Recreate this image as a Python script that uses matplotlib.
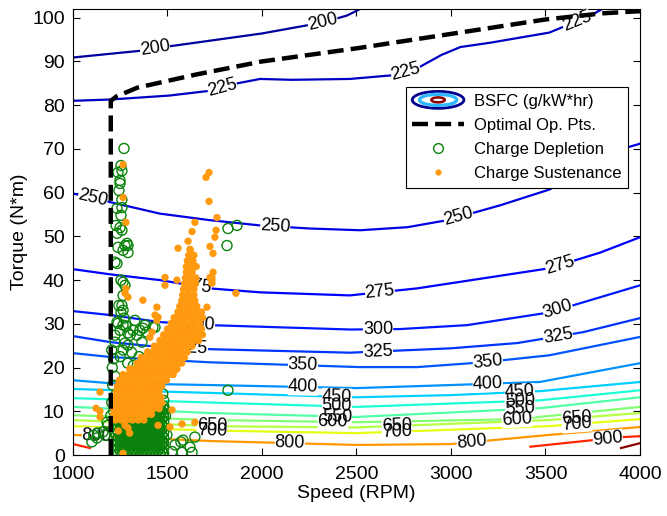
import numpy as np
import matplotlib
matplotlib.use('Agg')
import matplotlib.pyplot as plt
import matplotlib.colors as mcolors
from matplotlib.patches import Ellipse
from matplotlib.lines import Line2D
from matplotlib.legend_handler import HandlerBase

plt.rcParams['font.family'] = ['Liberation Sans', 'DejaVu Sans']

# BSFC contour lines: (level, speed RPM, torque N*m)
bsfc_lines = [
    (200, [1000, 1370, 1500, 2000, 2320, 2450, 2520], [90.9, 92.5, 93.4, 96.4, 98.9, 100.5, 102]),
    (225, [1000, 1200, 1510, 1725, 1870, 1990, 2160, 2465, 2680, 2820, 2950, 3050, 3210, 3520, 3610, 3740, 3800],
          [81.0, 81.3, 82.2, 83.3, 85.0, 86.0, 85.8, 86.0, 86.8, 88.4, 91.5, 93.3, 94.3, 96.6, 98.2, 100.5, 102]),
    (250, [1000, 1200, 1460, 1725, 1990, 2250, 2520, 2770, 2980, 3260, 3520, 3930, 4000],
          [59.8, 57.8, 55.2, 53.7, 52.5, 51.8, 51.4, 52.1, 53.7, 57.1, 60.7, 70.3, 71.2]),
    (275, [1000, 1200, 1460, 1725, 1990, 2465, 2820, 3170, 3520, 3790, 4000],
          [42.5, 41.3, 40.0, 38.1, 37.2, 36.5, 38.1, 40.4, 42.7, 46.3, 49.8]),
    (300, [1000, 1200, 1460, 1725, 2465, 2730, 3085, 3520, 4000],
          [32.9, 32.0, 30.4, 29.7, 28.7, 28.8, 29.7, 32.6, 38.8]),
    (325, [1000, 1200, 1460, 1725, 2465, 3000, 3350, 3700, 4000],
          [27.2, 25.8, 24.7, 24.2, 23.4, 24.4, 25.6, 28.1, 31.3]),
    (350, [1000, 1200, 1725, 2520, 2820, 3170, 3520, 4000],
          [23.3, 22.4, 21.2, 20.1, 20.1, 21.2, 22.8, 27.0]),
    (400, [1000, 1200, 1725, 2500, 3000, 3470, 4000], [17.1, 16.4, 16.0, 15.3, 16.0, 16.7, 21.0]),
    (450, [1000, 1725, 2500, 3000, 3470, 4000], [15.1, 14.2, 13.2, 13.7, 14.6, 16.7]),
    (500, [1000, 1725, 2500, 3470, 4000], [13.0, 12.0, 11.0, 12.5, 14.8]),
    (550, [1000, 1725, 2500, 3470, 4000], [11.0, 9.6, 8.7, 10.7, 13.2]),
    (600, [1000, 1725, 2500, 3350, 4000], [9.1, 8.0, 7.5, 8.2, 11.0]),
    (650, [1000, 1725, 2500, 3520, 4000], [8.0, 6.6, 6.3, 8.0, 9.6]),
    (700, [1000, 1725, 2500, 3520, 4000], [6.6, 5.6, 5.0, 6.6, 8.2]),
    (800, [1000, 1725, 2500, 3000, 3520, 4000], [4.6, 3.2, 2.3, 2.5, 4.6, 6.4]),
    (900, [1000, 1090], [2.5, 1.6]),
    (900, [3420, 3750, 3910, 4000], [1.9, 3.4, 4.1, 4.3]),
    (1000, [3900, 4000], [1.6, 2.7]),
]

# where the contour labels sit (level, speed)
bsfc_labels = [
    (200, 1434), (200, 2322), (225, 1790), (225, 2760), (225, 3666),
    (250, 1105), (250, 2070), (250, 3040), (275, 1656), (275, 2624), (275, 3576),
    (300, 1672), (300, 2614), (300, 3566), (325, 1635), (325, 2614), (325, 3566),
    (350, 2217), (350, 3195), (400, 2217), (400, 3195), (450, 2397), (450, 3365),
    (500, 2397), (500, 3365), (550, 2397), (550, 3365), (600, 2375), (600, 3349),
    (650, 1735), (650, 2714), (650, 3666), (700, 1735), (700, 2714), (700, 3666),
    (800, 1127), (800, 2148), (800, 3110), (900, 3830),
]

# optimal operating points
opt_speed = [1200, 1200, 1230, 1340, 1650, 2000, 2500, 3000, 3500, 3800, 4000]
opt_torque = [0, 81, 82, 84, 87, 90, 93, 96.3, 99.6, 101, 101.5]

# charge depletion points (sparse ones)
cd_speed = [1270, 1254, 1259, 1238, 1249, 1243, 1259, 1233, 1254, 1228, 1259, 1275, 1238, 1291,
            1222, 1233, 1265, 1275, 1254, 1265, 1259, 1265, 1243, 1254, 1270, 1233, 1238, 1265,
            1249, 1280, 1317, 1370, 1391, 1434, 1354, 1381, 1328, 1302, 1338, 1291, 1222, 1275,
            1365, 1222, 1291, 1265, 1291, 1249, 1259, 1249, 1233, 1286, 1423,
            1820, 1868, 1815, 1820, 1497, 1582, 1645, 1540, 1619, 1577, 1630, 1524, 1476, 1571,
            1127, 1100, 1159, 1185, 1170, 1110, 1132, 1180,
            1205, 1215, 1208, 1222, 1210, 1230, 1205, 1215, 1200, 1470, 1480, 1490, 1475,
            1250, 1290, 1320, 1265, 1350, 1310, 1460, 1485]
cd_torque = [70.1, 66.2, 65.0, 64.6, 62.8, 60.5, 58.4, 56.4, 54.8, 52.5, 51.4, 47.9, 47.5, 47.9,
             44.1, 43.8, 39.5, 38.8, 40.0, 36.5, 34.2, 33.1, 34.2, 32.6, 31.3, 30.4, 30.1, 29.7,
             28.5, 29.5, 28.5, 29.0, 28.1, 29.2, 28.5, 29.7, 30.8, 27.4, 27.4, 27.9, 27.4, 25.6,
             25.8, 25.8, 25.1, 46.8, 46.3, 52.0, 56.6, 62.1, 50.7, 48.4, 29.2,
             51.8, 52.5, 47.9, 14.8, 4.6, 3.4, 4.1, 2.3, 1.8, 0.6, 0.6, 0.8, 3.0, 3.0,
             3.9, 3.0, 5.3, 6.8, 4.5, 4.5, 5.0, 7.5,
             24.0, 22.0, 20.0, 18.0, 16.0, 14.0, 12.0, 10.0, 9.0, 10.0, 12.5, 9.0, 14.0,
             22.5, 21.0, 20.5, 24.0, 22.5, 23.5, 11.0, 10.5]

# dense low-load cluster of charge depletion points, row by row
cd_row_a = [1230, 1250, 1270, 1290, 1310, 1330, 1350, 1370, 1390, 1410, 1430, 1450, 1470]
cd_row_b = [1240, 1260, 1280, 1300, 1320, 1340, 1360, 1380, 1400, 1420, 1440, 1460, 1480]
cd_row_c = [1380, 1400, 1420, 1440, 1460, 1480]
cd_rows = [(0.4, cd_row_b), (1.0, cd_row_a), (1.6, cd_row_b), (2.2, cd_row_a), (2.8, cd_row_b),
           (3.4, cd_row_a), (4.0, cd_row_b), (4.6, cd_row_a), (5.2, cd_row_b), (5.8, cd_row_a),
           (6.4, cd_row_b), (7.0, cd_row_a), (7.6, cd_row_b), (8.2, cd_row_a), (8.8, cd_row_b),
           (9.6, cd_row_c), (10.4, cd_row_c), (11.2, cd_row_c)]

# charge sustenance points (sparse ones)
cs_speed = [1265, 1720, 1704, 1265, 1720, 1280, 1762, 1645, 1630, 1757, 1751, 1609, 1725, 1556,
            1619, 1741, 1735, 1741, 1735, 1487, 1487, 1550, 1862, 1370, 1275, 1280, 1291, 1444,
            1434, 1450, 1444, 1418, 1407, 1725, 1735, 1709, 1143, 1122, 1143, 1143, 1275, 1291,
            1450, 1513, 1577, 1645, 1540, 1524, 1265, 1240, 1300]
cs_torque = [66.4, 64.6, 63.5, 58.9, 58.0, 53.2, 54.3, 53.2, 51.1, 51.4, 49.8, 48.9, 47.7, 47.3,
             47.0, 46.1, 40.6, 41.8, 40.0, 40.6, 38.8, 40.0, 37.0, 35.4, 37.0, 38.1, 36.1, 33.8,
             32.0, 31.5, 30.8, 28.1, 26.9, 40.6, 39.3, 33.8, 14.4, 10.7, 10.0, 8.7, 6.8, 6.2,
             6.8, 6.4, 7.1, 7.5, 19.4, 10.3, 0.4, 5.5, 5.0]

# dense band of charge sustenance points, row by row (torque, speeds)
cs_rows = [
    (8.0, [1225, 1255, 1285, 1315, 1345, 1375]),
    (9.3, [1215, 1240, 1265, 1290, 1315, 1340, 1365, 1390, 1415]),
    (10.6, [1215, 1245, 1275, 1305, 1335, 1365, 1395, 1425, 1455]),
    (11.9, [1220, 1245, 1270, 1295, 1320, 1345, 1370, 1395, 1420, 1445, 1470]),
    (13.2, [1225, 1255, 1285, 1315, 1345, 1375, 1405, 1435, 1465]),
    (14.5, [1230, 1255, 1280, 1305, 1330, 1355, 1380, 1405, 1430, 1455]),
    (15.8, [1235, 1265, 1295, 1325, 1355, 1385, 1415, 1445, 1470]),
    (17.1, [1245, 1270, 1295, 1320, 1345, 1370, 1395, 1420, 1445, 1470, 1495]),
    (18.4, [1265, 1295, 1325, 1355, 1385, 1415, 1445, 1475, 1505, 1530]),
    (19.7, [1300, 1325, 1350, 1375, 1400, 1425, 1450, 1475, 1500, 1525, 1550]),
    (21.0, [1340, 1370, 1400, 1430, 1460, 1490, 1520, 1550, 1575]),
    (22.3, [1360, 1385, 1410, 1435, 1460, 1485, 1510, 1535, 1560, 1590]),
    (23.6, [1395, 1425, 1455, 1485, 1515, 1545, 1575, 1605]),
    (24.9, [1430, 1455, 1480, 1505, 1530, 1555, 1580, 1605, 1630]),
    (26.2, [1460, 1490, 1520, 1550, 1580, 1610, 1640, 1665]),
    (27.5, [1480, 1505, 1530, 1555, 1580, 1605, 1630, 1655, 1685]),
    (28.8, [1500, 1530, 1560, 1590, 1620, 1650, 1680]),
    (30.1, [1520, 1545, 1570, 1595, 1620, 1645, 1670]),
    (31.4, [1535, 1565, 1595, 1625, 1655, 1685]),
    (32.7, [1555, 1580, 1605, 1630, 1655, 1680]),
    (34.0, [1565, 1595, 1625, 1655]),
    (35.3, [1575, 1600, 1625, 1645]),
    (36.6, [1580, 1610, 1640]),
    (37.9, [1585, 1610, 1640]),
    (39.2, [1590, 1620, 1648]),
    (40.5, [1595, 1625, 1650]),
    (41.8, [1600, 1630]),
    (43.1, [1600, 1628, 1652]),
    (44.4, [1605, 1635]),
    (45.7, [1612, 1640]),
    (47.0, [1620]),
]

norm = mcolors.Normalize(vmin=175, vmax=1010)
cmap = plt.get_cmap('jet')

fig = plt.figure(figsize=(6.67, 5.16), dpi=100)
ax = fig.add_axes([0.1094, 0.1182, 0.8501, 0.8644])
ax.set_xlim(1000, 4000)
ax.set_ylim(0, 102)

for lvl, xs, ys in bsfc_lines:
    ax.plot(xs, ys, color=cmap(norm(lvl)), lw=1.6, zorder=2)

# labels: white patch under each label first, then the digits on top of all patches
for lvl, lx in bsfc_labels:
    for l2, xs, ys in bsfc_lines:
        if l2 == lvl and xs[0] <= lx <= xs[-1]:
            ly = np.interp(lx, xs, ys)
            p1 = ax.transData.transform((lx - 30, np.interp(lx - 30, xs, ys)))
            p2 = ax.transData.transform((lx + 30, np.interp(lx + 30, xs, ys)))
            ang = np.degrees(np.arctan2(p2[1] - p1[1], p2[0] - p1[0]))
            ax.text(lx, ly, str(lvl), rotation=ang, rotation_mode='anchor', ha='center', va='center',
                    fontsize=13, zorder=3, color='none',
                    bbox=dict(boxstyle='square,pad=0.0', fc='white', ec='none'))
            ax.text(lx, ly, str(lvl), rotation=ang, rotation_mode='anchor', ha='center', va='center',
                    fontsize=13, zorder=3.1, color='black')
            break

cd_x = list(cd_speed)
cd_y = list(cd_torque)
for ty, row in cd_rows:
    cd_x += row
    cd_y += [ty] * len(row)
cs_x = list(cs_speed)
cs_y = list(cs_torque)
for ty, row in cs_rows:
    cs_x += row
    cs_y += [ty] * len(row)

green = '#0b820b'
orange = '#ff9a10'
ax.scatter(cd_x, cd_y, s=52, facecolors='none', edgecolors=green, linewidths=1.0, zorder=4)
ax.scatter(cs_x, cs_y, s=28, color=orange, edgecolors='none', zorder=4.5)
ax.plot(opt_speed, opt_torque, color='black', lw=3.2, ls=(0, (3.6, 1.6)), zorder=5)

ax.set_xticks([1000, 1500, 2000, 2500, 3000, 3500, 4000])
ax.set_yticks(range(0, 101, 10))
ax.tick_params(direction='in', top=True, right=True, length=5, labelsize=14)
ax.tick_params(axis='x', pad=8)
ax.tick_params(axis='y', pad=6)
ax.set_xlabel('Speed (RPM)', fontsize=14, labelpad=1)
ax.set_ylabel('Torque (N*m)', fontsize=14, labelpad=3)


class BsfcHandler(HandlerBase):
    def create_artists(self, legend, orig_handle, xdescent, ydescent, width, height, fontsize, trans):
        cx = 0.5 * width - xdescent
        cy = 0.5 * height - ydescent
        rings = [(1.0, 1.45, '#00008f', 2.0), (0.72, 0.95, '#30b8ff', 2.4), (0.26, 0.42, '#8b0000', 1.8)]
        arts = []
        for fw, fh, c, lw in rings:
            arts.append(Ellipse((cx, cy), width * fw, height * fh, fc='none', ec=c, lw=lw, transform=trans))
        return arts


bsfc_handle = Ellipse((0, 0), 1, 1)
opt_handle = Line2D([], [], color='black', lw=3.2, ls=(0, (3.6, 1.6)))
cd_handle = Line2D([], [], ls='none', marker='o', ms=7, mfc='none', mec=green, mew=1.0)
cs_handle = Line2D([], [], ls='none', marker='o', ms=4.5, mfc=orange, mec='none')
leg = ax.legend([bsfc_handle, opt_handle, cd_handle, cs_handle],
                ['BSFC (g/kW*hr)', 'Optimal Op. Pts.', 'Charge Depletion', 'Charge Sustenance'],
                handler_map={Ellipse: BsfcHandler()}, loc='upper right', bbox_to_anchor=(0.979, 0.825),
                borderaxespad=0, fontsize=12, handlelength=3.1, fancybox=False, framealpha=1,
                edgecolor='black', borderpad=0.4, labelspacing=0.55, handletextpad=0.6)
leg.get_frame().set_linewidth(0.8)
leg.set_zorder(10)

fig.savefig('out.png', dpi=100)
